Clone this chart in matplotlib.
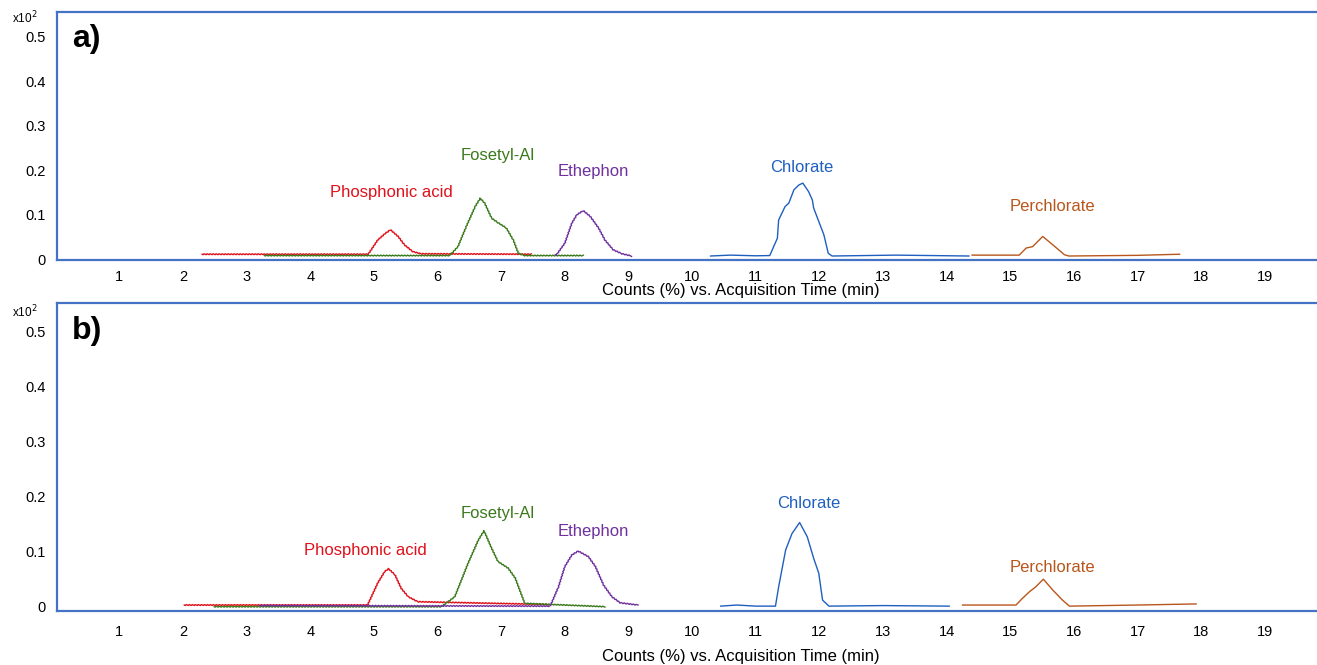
import matplotlib
matplotlib.use("Agg")
import matplotlib.pyplot as plt

plt.rcParams['font.family'] = ['Liberation Sans', 'DejaVu Sans']

# retention times (min) and counts (x10^2)
# panel a
phos_a_x = [2.3, 4.91, 5.06, 5.18, 5.26, 5.38, 5.48, 5.61, 5.74, 7.47]
phos_a_y = [0.011, 0.011, 0.043, 0.058, 0.066, 0.051, 0.032, 0.017, 0.012, 0.011]
fos_a_x = [3.28, 6.19, 6.32, 6.45, 6.59, 6.67, 6.74, 6.85, 6.95, 7.08, 7.19, 7.27, 7.37, 8.29]
fos_a_y = [0.008, 0.008, 0.028, 0.073, 0.118, 0.137, 0.126, 0.092, 0.082, 0.070, 0.043, 0.013, 0.008, 0.008]
eth_a_x = [7.85, 7.87, 8.0, 8.11, 8.19, 8.29, 8.40, 8.53, 8.63, 8.76, 8.9, 9.05]
eth_a_y = [0.010, 0.010, 0.036, 0.081, 0.100, 0.109, 0.096, 0.070, 0.043, 0.021, 0.012, 0.007]
chl_a_x = [10.29, 10.6, 11.0, 11.22, 11.34, 11.36, 11.46, 11.52, 11.6, 11.68, 11.74,
           11.83, 11.89, 11.91, 11.99, 12.07, 12.14, 12.2, 13.2, 14.35]
chl_a_y = [0.007, 0.009, 0.0075, 0.008, 0.047, 0.088, 0.118, 0.126, 0.156, 0.167, 0.171,
           0.152, 0.133, 0.115, 0.085, 0.055, 0.013, 0.007, 0.009, 0.007]
per_a_x = [14.4, 15.14, 15.25, 15.35, 15.51, 15.67, 15.85, 15.92, 17.0, 17.66]
per_a_y = [0.009, 0.009, 0.025, 0.028, 0.051, 0.032, 0.010, 0.007, 0.0085, 0.011]

# panel b
phos_b_x = [2.02, 4.9, 5.06, 5.17, 5.23, 5.33, 5.43, 5.54, 5.69, 7.74]
phos_b_y = [0.003, 0.003, 0.043, 0.064, 0.069, 0.058, 0.033, 0.018, 0.009, 0.004]
fos_b_x = [2.49, 6.06, 6.27, 6.48, 6.64, 6.73, 6.85, 6.95, 7.11, 7.22, 7.37, 8.63]
fos_b_y = [0.0, 0.0, 0.018, 0.079, 0.121, 0.138, 0.106, 0.082, 0.070, 0.052, 0.006, 0.0]
eth_b_x = [3.2, 7.77, 7.9, 8.0, 8.11, 8.21, 8.37, 8.48, 8.61, 8.74, 8.87, 9.15]
eth_b_y = [0.002, 0.001, 0.036, 0.073, 0.094, 0.101, 0.091, 0.073, 0.039, 0.018, 0.007, 0.003]
chl_b_x = [10.45, 10.7, 11.0, 11.31, 11.36, 11.47, 11.57, 11.69, 11.81, 11.91, 11.99,
           12.05, 12.15, 13.0, 14.04]
chl_b_y = [0.001, 0.003, 0.001, 0.001, 0.036, 0.103, 0.133, 0.153, 0.127, 0.088, 0.061,
           0.012, 0.001, 0.002, 0.001]
per_b_x = [14.25, 15.09, 15.19, 15.3, 15.4, 15.46, 15.52, 15.67, 15.82, 15.93, 17.0, 17.92]
per_b_y = [0.003, 0.003, 0.015, 0.027, 0.036, 0.043, 0.050, 0.030, 0.012, 0.001, 0.003, 0.005]

compounds = ["Phosphonic acid", "Fosetyl-Al", "Ethephon", "Chlorate", "Perchlorate"]
colors = ['#e0101a', '#3a7a1c', '#7030a0', '#1f5fbf', '#b8561c']
label_pos_a = [(5.28, 0.151), (6.95, 0.234), (8.45, 0.196), (11.72, 0.207), (15.66, 0.118)]
label_pos_b = [(4.86, 0.103), (6.95, 0.170), (8.45, 0.136), (11.83, 0.187), (15.66, 0.072)]

xticks = list(range(1, 20))
yticks = [0, 0.1, 0.2, 0.3, 0.4, 0.5]
ytick_labels = ['0', '0.1', '0.2', '0.3', '0.4', '0.5']

frame_color = '#4472c4'

fig = plt.figure(figsize=(13.17, 6.65), dpi=100)
ax_a = fig.add_axes([0.0433, 0.609, 0.9567, 0.373])
ax_b = fig.add_axes([0.0433, 0.0805, 0.9567, 0.4639])

panels = [
    (ax_a, "a)", [(phos_a_x, phos_a_y), (fos_a_x, fos_a_y), (eth_a_x, eth_a_y),
                  (chl_a_x, chl_a_y), (per_a_x, per_a_y)], label_pos_a, (-0.002, 0.556), 7, -0.094, 0.89),
    (ax_b, "b)", [(phos_b_x, phos_b_y), (fos_b_x, fos_b_y), (eth_b_x, eth_b_y),
                  (chl_b_x, chl_b_y), (per_b_x, per_b_y)], label_pos_b, (-0.0087, 0.552), 10, -0.123, 0.91),
]

for ax, tag, series, lpos, ylim, xpad, label_y, tag_y in panels:
    for i, (xs, ys) in enumerate(series):
        line, = ax.plot(xs, ys, color=colors[i], lw=1.0)
        if i < 3:
            # noisy baseline look of the raw trace
            line.set_sketch_params(0.5, 3, 1)
        ax.text(lpos[i][0], lpos[i][1], compounds[i], color=colors[i],
                fontsize=12, ha='center', va='center')

    ax.set_xlim(0.02, 19.82)
    ax.set_ylim(*ylim)
    ax.set_xticks(xticks)
    ax.set_yticks(yticks)
    ax.set_yticklabels(ytick_labels)
    ax.tick_params(length=0, labelsize=10.5)
    ax.tick_params(axis='x', pad=xpad)
    ax.tick_params(axis='y', pad=8)
    ax.set_xlabel('Counts (%) vs. Acquisition Time (min)', fontsize=12)
    ax.xaxis.set_label_coords(0.543, label_y)

    for side in ['left', 'bottom', 'top']:
        ax.spines[side].set_color(frame_color)
        ax.spines[side].set_linewidth(1.6)
    ax.spines['right'].set_visible(False)

    ax.text(0.012, tag_y, tag, transform=ax.transAxes, fontsize=23,
            fontweight='bold', va='center', ha='left')

fig.text(0.009, 0.973, 'x10$^2$', fontsize=8.5, va='center')
fig.text(0.009, 0.531, 'x10$^2$', fontsize=8.5, va='center')

fig.savefig('out.png', dpi=100, facecolor='white')
